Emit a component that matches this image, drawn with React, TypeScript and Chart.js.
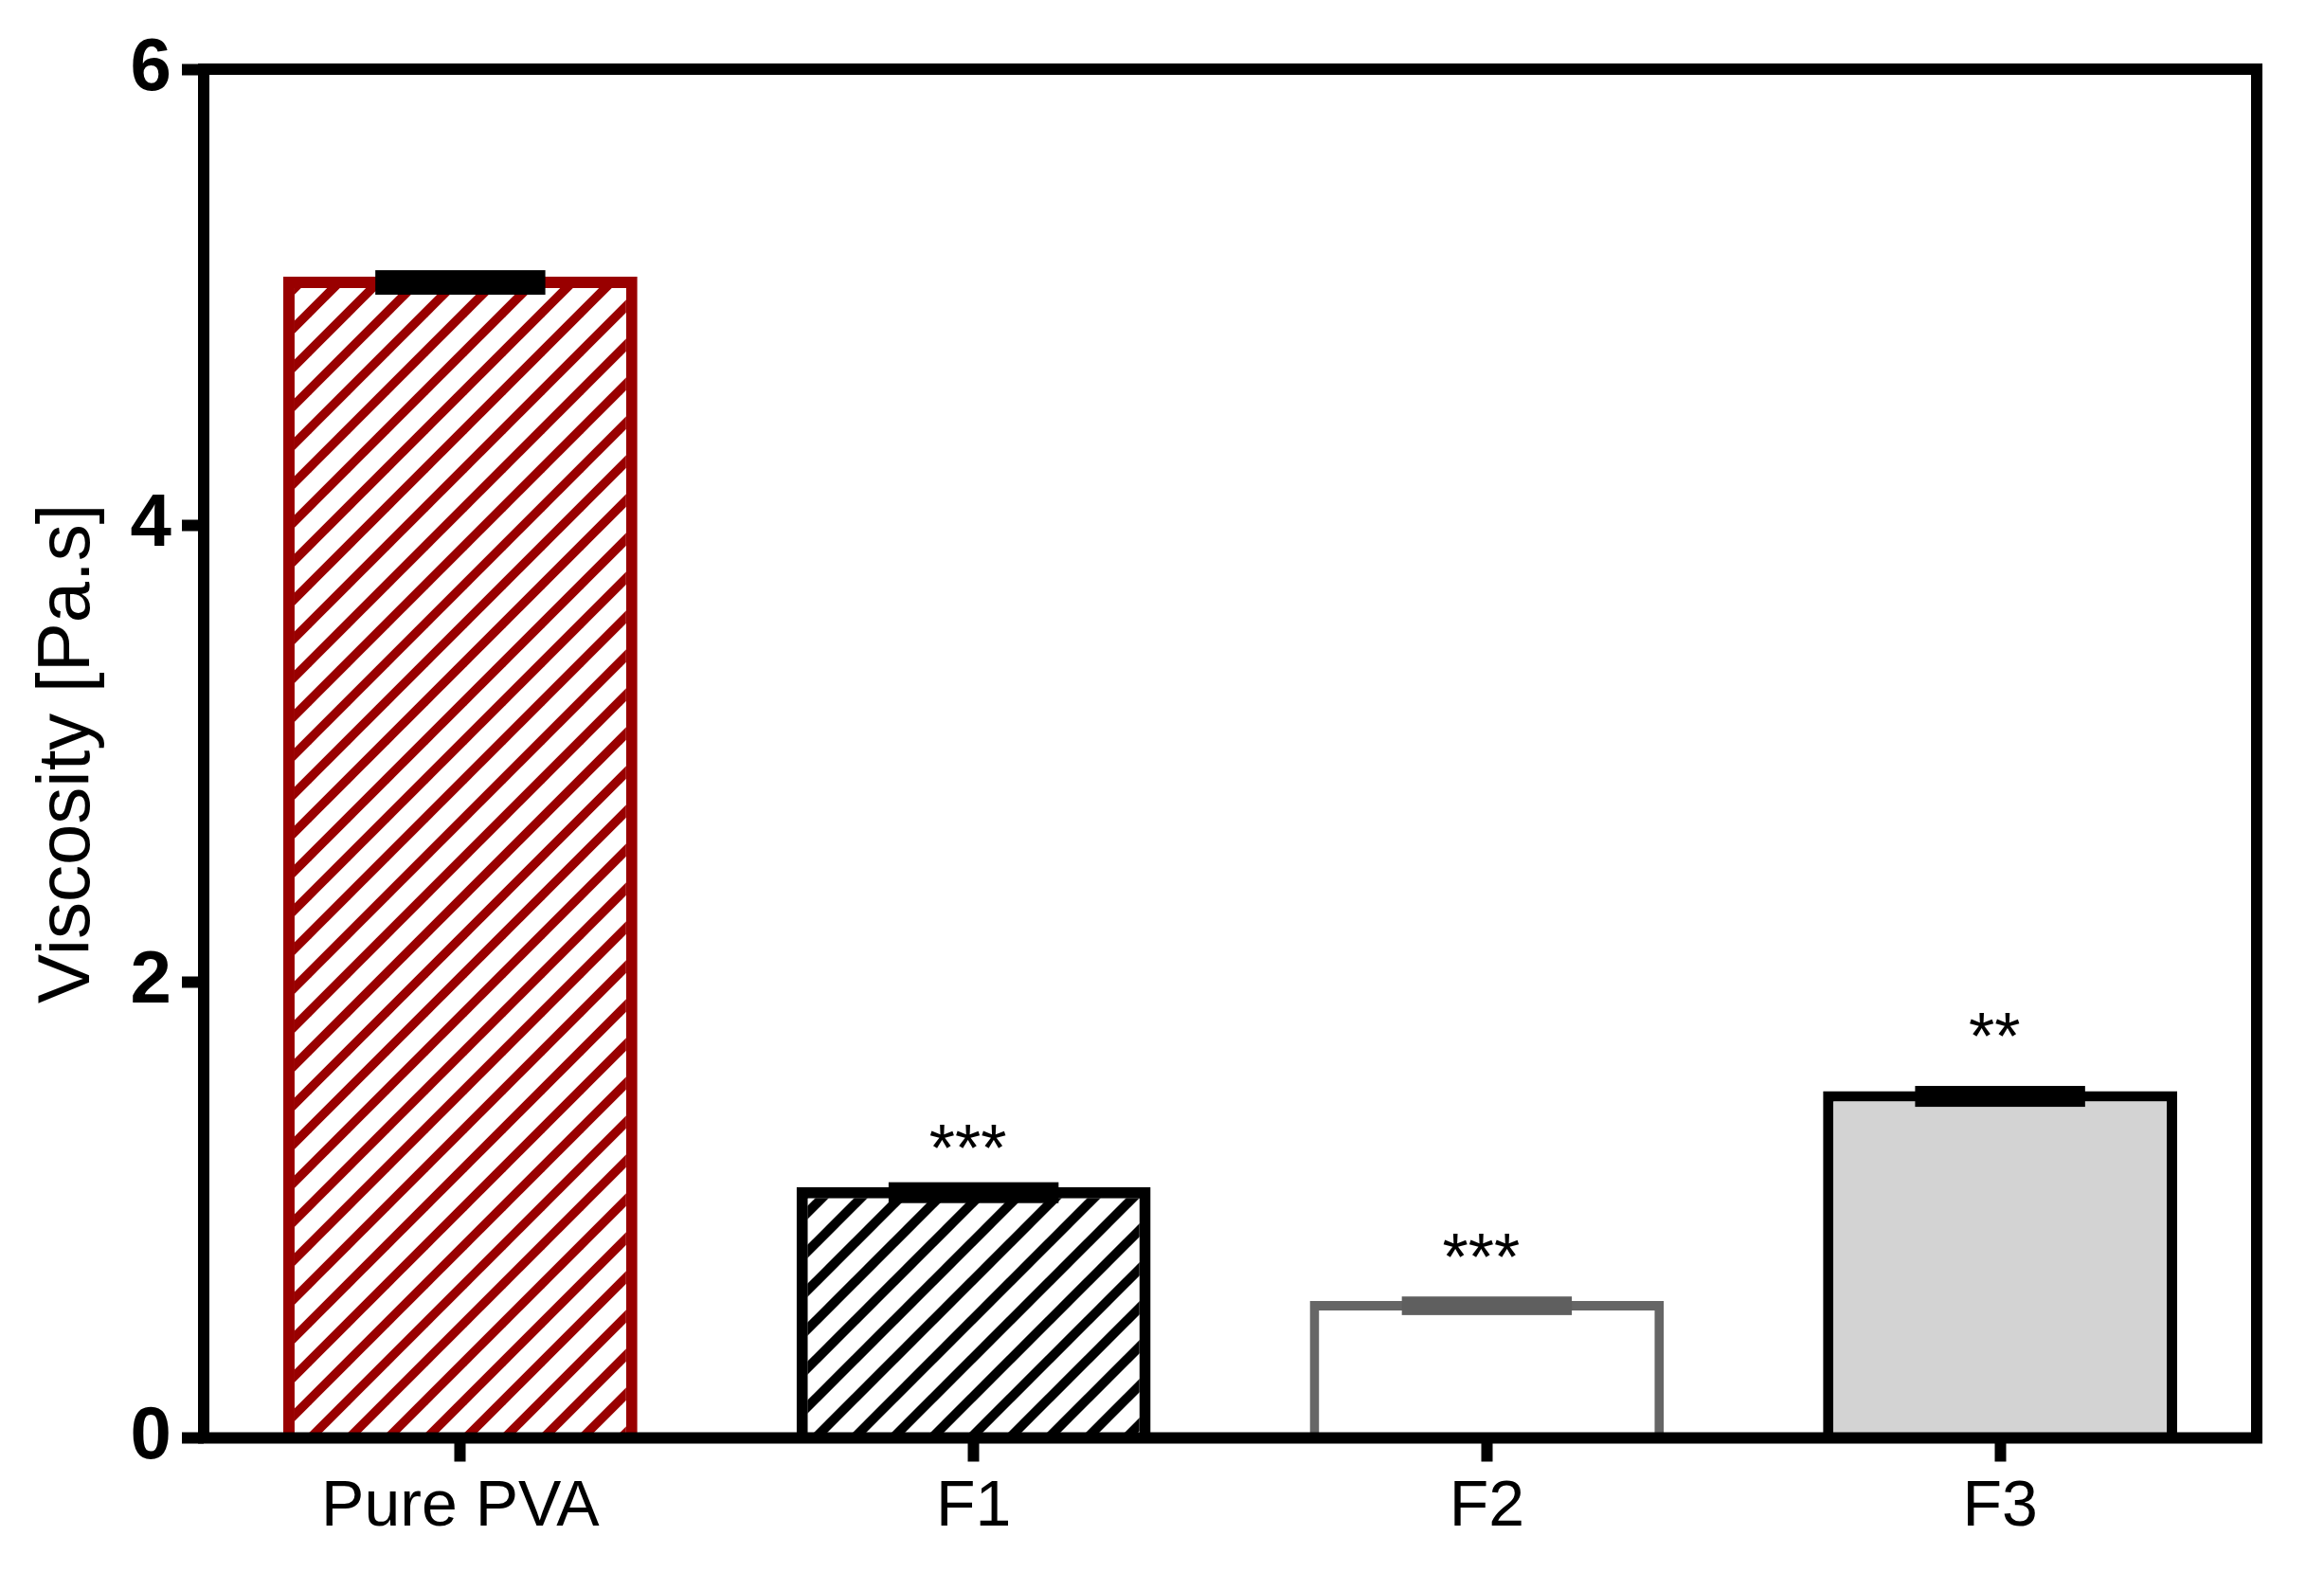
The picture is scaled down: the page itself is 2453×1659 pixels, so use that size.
import React, { useEffect, useRef } from 'react';
import { Chart, registerables } from 'chart.js';

Chart.register(...registerables);

const categories = ['Pure PVA', 'F1', 'F2', 'F3'];
const viscosity = [5.09, 1.1, 0.6, 1.52];
const viscositySD = [0.033, 0.025, 0.02, 0.025];
const significance = ['', '***', '***', '**'];
const significanceY = [0, 1.169, 0.692, 1.659];
const yTicks = [0, 2, 4, 6];

const FONT = '"Liberation Sans", Arial, Helvetica, sans-serif';
const W = 2453;
const H = 1659;

function stripePattern(color: string, period: number, width: number): CanvasPattern | string {
  const c = document.createElement('canvas');
  c.width = period;
  c.height = period;
  const g = c.getContext('2d');
  if (!g) return '#ffffff';
  g.fillStyle = '#ffffff';
  g.fillRect(0, 0, period, period);
  g.strokeStyle = color;
  g.lineWidth = width;
  for (const k of [-1, 0, 1]) {
    g.beginPath();
    g.moveTo(k * period - 10, period + 10);
    g.lineTo(k * period + period + 10, -10);
    g.stroke();
  }
  return g.createPattern(c, 'repeat') || '#ffffff';
}

const errorColors = ['#000000', '#000000', '#5f5f5f', '#000000'];

const overlayPlugin = {
  id: 'overlay',
  afterDatasetsDraw(chart: any) {
    const ctx = chart.ctx as CanvasRenderingContext2D;
    const yScale = chart.scales.y;
    const meta = chart.getDatasetMeta(0);
    ctx.save();
    meta.data.forEach((bar: any, i: number) => {
      const off = (bar.options.borderWidth || 0) / 2;
      const top = yScale.getPixelForValue(viscosity[i] + viscositySD[i]) + off;
      const bot = yScale.getPixelForValue(viscosity[i] - viscositySD[i]) + off;
      const half = bar.width * 0.24;
      ctx.fillStyle = errorColors[i];
      ctx.fillRect(bar.x - half, top - 5, 2 * half, bot - top + 10);
      if (significance[i]) {
        ctx.fillStyle = '#000000';
        ctx.font = `70px ${FONT}`;
        ctx.textAlign = 'center';
        ctx.textBaseline = 'alphabetic';
        ctx.fillText(significance[i], bar.x - 6, yScale.getPixelForValue(significanceY[i]));
      }
    });
    const a = chart.chartArea;
    ctx.strokeStyle = '#000000';
    ctx.lineWidth = 12;
    ctx.lineJoin = 'miter';
    ctx.strokeRect(a.left, a.top, a.right - a.left, a.bottom - a.top);
    ctx.restore();
  },
};

export default function App() {
  const ref = useRef<HTMLCanvasElement | null>(null);

  useEffect(() => {
    if (!ref.current) return;
    const redPattern = stripePattern('#990000', 41, 9.5);
    const blackPattern = stripePattern('#000000', 41, 10);
    const chart = new Chart(ref.current, {
      type: 'bar',
      data: {
        labels: categories,
        datasets: [
          {
            data: viscosity,
            backgroundColor: [redPattern, blackPattern, '#ffffff', '#d3d3d3'] as any,
            borderColor: ['#990000', '#000000', '#666666', '#000000'],
            borderWidth: [12, 12, 10, 11] as any,
            borderSkipped: 'start',
            barPercentage: 0.69,
            categoryPercentage: 1.0,
          },
        ],
      },
      options: {
        responsive: false,
        animation: false,
        layout: { padding: { top: 73, right: 71, left: 0, bottom: 0 } },
        plugins: {
          legend: { display: false },
          tooltip: { enabled: false },
          title: { display: false },
        },
        scales: {
          x: {
            type: 'category',
            offset: true,
            grid: {
              display: true,
              offset: false,
              drawOnChartArea: false,
              drawTicks: true,
              tickLength: 25,
              tickWidth: 12,
              tickColor: '#000000',
              color: '#000000',
            },
            border: { display: false },
            ticks: {
              color: '#000000',
              font: { family: FONT, size: 68 },
              padding: 8,
              maxRotation: 0,
              autoSkip: false,
            },
            afterFit: (s: any) => {
              s.height = 141.5;
            },
          },
          y: {
            min: 0,
            max: 6,
            afterBuildTicks: (s: any) => {
              s.ticks = yTicks.map((v) => ({ value: v }));
            },
            grid: {
              display: true,
              drawOnChartArea: false,
              drawTicks: true,
              tickLength: 23,
              tickWidth: 12,
              tickColor: '#000000',
              color: '#000000',
            },
            border: { display: false },
            ticks: {
              color: '#000000',
              font: { family: FONT, size: 78, weight: 'bold' },
              padding: 11,
            },
            title: {
              display: true,
              text: 'Viscosity [Pa.s]',
              color: '#000000',
              font: { family: FONT, size: 78 },
              padding: { top: 26, bottom: 0 },
            },
            afterFit: (s: any) => {
              s.width = 215;
            },
          },
        },
      } as any,
      plugins: [overlayPlugin],
    });
    return () => chart.destroy();
  }, []);

  return (
    <div style={{ position: 'absolute', left: 0, top: 0, width: W, height: H, background: '#ffffff' }}>
      <canvas ref={ref} width={W} height={H} style={{ display: 'block', width: W, height: H }} />
    </div>
  );
}
